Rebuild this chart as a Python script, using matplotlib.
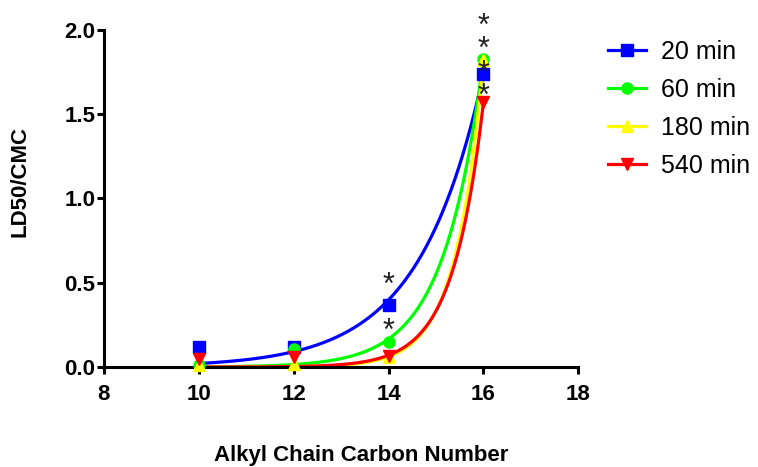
import numpy as np
import matplotlib.pyplot as plt

plt.rcParams['font.family'] = ['Liberation Sans', 'DejaVu Sans']

carbons = [10, 12, 14, 16]
ld50_20 = [0.12, 0.12, 0.37, 1.74]
ld50_60 = [0.01, 0.105, 0.15, 1.83]
ld50_180 = [0.01, 0.02, 0.06, 1.82]
ld50_540 = [0.05, 0.06, 0.065, 1.57]
labels = ['20 min', '60 min', '180 min', '540 min']

# significance stars: (x, y) of each "*"
star_x = [14, 14, 16, 16, 16, 16]
star_y = [0.48, 0.21, 2.02, 1.88, 1.74, 1.60]


def exp_fit(x, y):
    # least squares fit of y = A*exp(k*x), grid over k
    x = np.asarray(x, float)
    y = np.asarray(y, float)
    best = None
    for k in np.linspace(0.1, 3.0, 2901):
        e = np.exp(k * (x - 16))
        a = np.sum(y * e) / np.sum(e * e)
        sse = np.sum((y - a * e) ** 2)
        if best is None or sse < best[0]:
            best = (sse, a, k)
    return best[1], best[2]


fig = plt.figure(figsize=(7.58, 4.67), dpi=100)
ax = fig.add_axes([0.137, 0.214, 0.626, 0.722])

series = [ld50_20, ld50_60, ld50_180, ld50_540]
colors = ['#0000ff', '#00ff00', '#ffff00', '#ff0000']
markers = ['s', 'o', '^', 'v']
xs = np.linspace(10, 16, 300)
for ys, c, m, lab in zip(series, colors, markers, labels):
    a, k = exp_fit(carbons, ys)
    ax.plot(xs, a * np.exp(k * (xs - 16)), color=c, lw=2.3, zorder=2)
    ax.plot(carbons, ys, ls='none', marker=m, color=c, ms=8, zorder=3,
            clip_on=False)
    ax.plot([], [], color=c, lw=2.3, marker=m, ms=8, label=lab)

for sx, sy in zip(star_x, star_y):
    ax.text(sx, sy, '*', ha='center', va='center', fontsize=22,
            color='#222222', clip_on=False, zorder=4)

ax.set_xlim(8, 18)
ax.set_ylim(0, 2.0)
ax.set_xticks([8, 10, 12, 14, 16, 18])
ax.set_yticks([0.0, 0.5, 1.0, 1.5, 2.0])
ax.set_yticklabels(['0.0', '0.5', '1.0', '1.5', '2.0'])
ax.spines['top'].set_visible(False)
ax.spines['right'].set_visible(False)
for s in ['left', 'bottom']:
    ax.spines[s].set_linewidth(2.2)
ax.tick_params(width=2.2, length=5, labelsize=16)
ax.tick_params(axis='x', pad=7)
ax.tick_params(axis='y', pad=1)
for t in ax.get_xticklabels() + ax.get_yticklabels():
    t.set_fontweight('bold')

ax.set_xlabel('Alkyl Chain Carbon Number', fontsize=16, fontweight='bold')
ax.xaxis.set_label_coords(0.542, -0.23)
ax.set_ylabel('LD50/CMC', fontsize=16, fontweight='bold')
ax.yaxis.set_label_coords(-0.155, 0.55)

ax.legend(loc='upper left', bbox_to_anchor=(0.773, 0.962),
          bbox_transform=fig.transFigure, frameon=False, fontsize=18,
          handlelength=1.5, handletextpad=0.6, labelspacing=0.56)

fig.savefig('out.png', dpi=100)
